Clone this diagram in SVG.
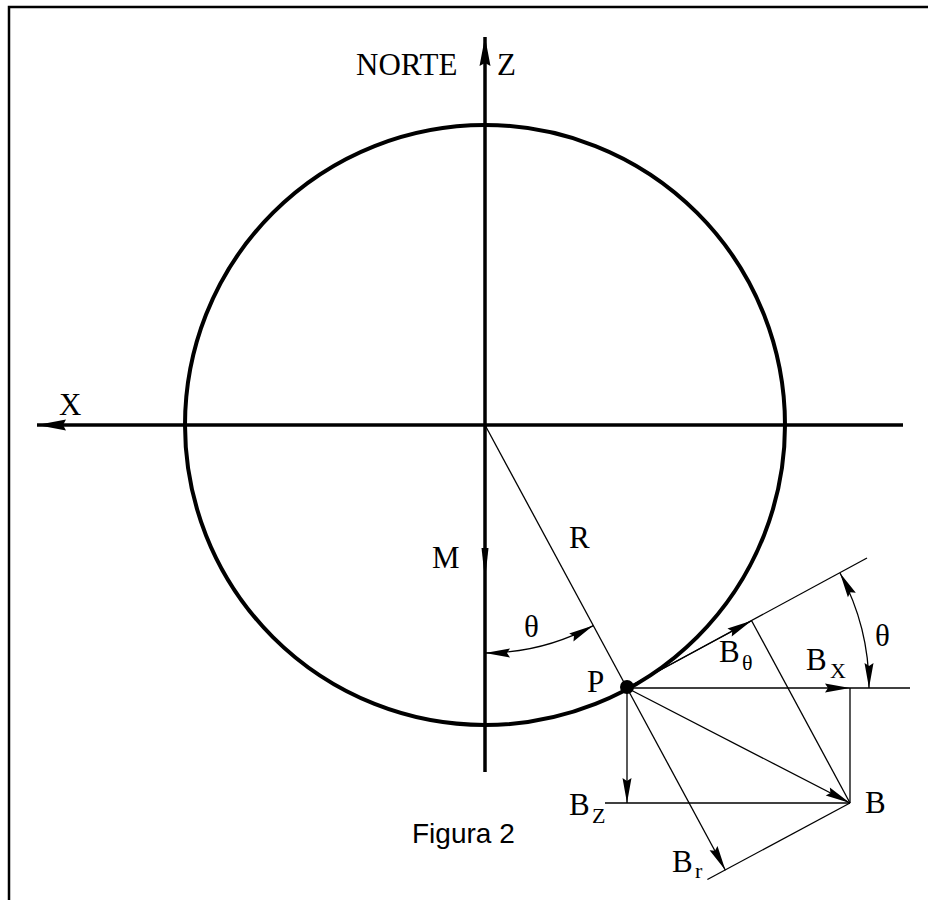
<svg xmlns="http://www.w3.org/2000/svg" width="928" height="900" viewBox="0 0 928 900">
<style>
.thick{stroke:#000;stroke-width:3.5;fill:none}
.circ{stroke:#000;stroke-width:4;fill:none}
.thin{stroke:#000;stroke-width:1.3;fill:none}
.lbl{font-family:"Liberation Serif","Times New Roman",serif;font-size:31px;fill:#000}
.sub{font-family:"Liberation Serif","Times New Roman",serif;font-size:22px;fill:#000}
.cap{font-family:"Liberation Sans",Arial,sans-serif;font-size:28px;fill:#000}
</style>
<defs>
<marker id="ah" markerUnits="userSpaceOnUse" viewBox="-28 -6 30 12" markerWidth="30" markerHeight="12" refX="0" refY="0" orient="auto-start-reverse">
<path d="M0,0 L-25,-4.5 L-22,0 L-25,4.5 Z" fill="#000"/>
</marker>
<marker id="ahb" markerUnits="userSpaceOnUse" viewBox="-32 -7 34 14" markerWidth="34" markerHeight="14" refX="0" refY="0" orient="auto">
<path d="M0,0 L-29,-5.5 L-26,0 L-29,5.5 Z" fill="#000"/>
</marker>
</defs>
<rect width="928" height="900" fill="#fff"/>
<g id="frame">
<polyline points="9,900 9,7 928,7" fill="none" stroke="#000" stroke-width="2.5"/>
</g>
<g id="sphere">
<circle class="circ" cx="485" cy="425" r="300"/>
</g>
<g id="connectors">
<line class="thick" x1="485" y1="772" x2="485" y2="37" marker-end="url(#ahb)"/>
<line class="thick" x1="903" y1="425" x2="37" y2="425" marker-end="url(#ahb)"/>
<polygon points="485,580 481.5,548 488.5,548" fill="#000"/>
<line class="thin" x1="485" y1="425" x2="627" y2="688"/>
<path class="thin" d="M485,653 A228,228 0 0 0 593.3,625.6" marker-start="url(#ah)" marker-end="url(#ah)"/>
<line class="thin" x1="627" y1="688" x2="867" y2="558"/>
<line class="thin" x1="627" y1="688" x2="751.6" y2="620.7" marker-end="url(#ah)"/>
<line class="thin" x1="751.6" y1="620.7" x2="850" y2="803"/>
<line class="thin" x1="627" y1="688" x2="850" y2="688" marker-end="url(#ah)"/>
<line class="thin" x1="850" y1="688" x2="910" y2="688"/>
<line class="thin" x1="850" y1="688" x2="850" y2="803"/>
<line class="thin" x1="605" y1="803" x2="850" y2="803"/>
<line class="thin" x1="627" y1="688" x2="627" y2="803" marker-end="url(#ah)"/>
<line class="thin" x1="627" y1="688" x2="850" y2="803" marker-end="url(#ah)"/>
<line class="thin" x1="627" y1="688" x2="725.4" y2="870.2" marker-end="url(#ah)"/>
<line class="thin" x1="850" y1="803" x2="707.4" y2="879.5"/>
<path class="thin" d="M840,573 A242,242 0 0 1 869,688" marker-start="url(#ah)" marker-end="url(#ah)"/>
</g>
<g id="P">
<circle cx="627" cy="687" r="7" fill="#000"/>
<text class="lbl" x="587" y="692">P</text>
</g>
<g id="labels">
<text class="lbl" x="356" y="75">NORTE</text>
<text class="lbl" x="497" y="75">Z</text>
<text class="lbl" x="59" y="415">X</text>
<text class="lbl" x="432" y="568">M</text>
<text class="lbl" x="569" y="548">R</text>
<text class="lbl" x="524" y="637">θ</text>
<text class="lbl" x="875" y="646">θ</text>
<text class="lbl" x="865" y="813">B</text>
</g>
<g id="Btheta"><text class="lbl" x="719" y="662">B</text><text class="sub" x="742" y="670">θ</text></g>
<g id="BX"><text class="lbl" x="806" y="670">B</text><text class="sub" x="830" y="678">X</text></g>
<g id="BZ"><text class="lbl" x="569" y="815">B</text><text class="sub" x="592" y="823">Z</text></g>
<g id="Br"><text class="lbl" x="672" y="872">B</text><text class="sub" x="695" y="878">r</text></g>
<g id="caption"><text class="cap" x="412" y="843">Figura 2</text></g>
</svg>
